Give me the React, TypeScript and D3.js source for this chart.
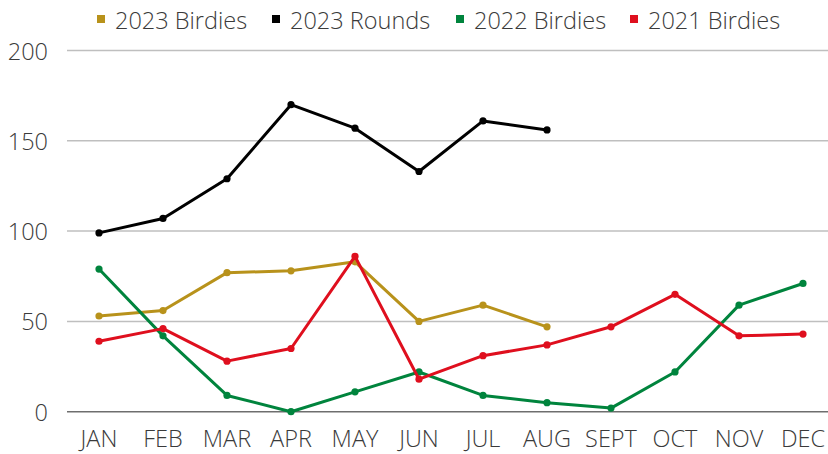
import React from "react";
import * as d3 from "d3";

const months = ["JAN", "FEB", "MAR", "APR", "MAY", "JUN", "JUL", "AUG", "SEPT", "OCT", "NOV", "DEC"];
const yTicks = [0, 50, 100, 150, 200];
const birdies2023 = [53, 56, 77, 78, 83, 50, 59, 47];
const rounds2023 = [99, 107, 129, 170, 157, 133, 161, 156];
const birdies2022 = [79, 42, 9, 0, 11, 22, 9, 5, 2, 22, 59, 71];
const birdies2021 = [39, 46, 28, 35, 86, 18, 31, 37, 47, 65, 42, 43];

const seriesNames = ["2023 Birdies", "2023 Rounds", "2022 Birdies", "2021 Birdies"];
const seriesColors = ["#B8921B", "#000000", "#00843D", "#DF0F1E"];
const seriesData = [birdies2023, rounds2023, birdies2022, birdies2021];

const W = 828;
const H = 454;
const FONT = "'Open Sans', sans-serif";
const FS = 23.5;

export default function App() {
  const x = d3.scalePoint<string>().domain(months).range([99, 803]);
  const y = d3.scaleLinear().domain([0, 200]).range([411.7, 50.5]);
  const line = d3
    .line<number>()
    .x((_, i) => x(months[i]) as number)
    .y((d) => y(d));
  const legendX = [97, 272, 456, 630];

  return (
    <>
      <style>{`body{margin:0}`}</style>
      <svg width={W} height={H} style={{ display: "block", background: "#fff" }}>
        {yTicks.map((t) => (
          <g key={t}>
            {t !== 0 && (
              <line x1={67} x2={828} y1={y(t)} y2={y(t)} stroke="#BFBFBF" strokeWidth={1.5} />
            )}
            <text
              x={48}
              y={y(t)}
              textAnchor="end"
              dominantBaseline="central"
              fontFamily={FONT}
              fontWeight={300}
              fontSize={FS}
              fill="#3A3A3A"
            >
              {t}
            </text>
          </g>
        ))}
        <line x1={67} x2={828} y1={y(0)} y2={y(0)} stroke="#6E6E6E" strokeWidth={1.5} />
        {months.map((m) => (
          <text
            key={m}
            x={x(m)}
            y={438}
            textAnchor="middle"
            dominantBaseline="central"
            fontFamily={FONT}
            fontWeight={300}
            fontSize={FS}
            fill="#3A3A3A"
          >
            {m}
          </text>
        ))}
        {seriesData.map((data, si) => (
          <g key={seriesNames[si]}>
            <path d={line(data) || ""} fill="none" stroke={seriesColors[si]} strokeWidth={3} strokeLinejoin="round" />
            {data.map((v, i) => (
              <circle key={i} cx={x(months[i])} cy={y(v)} r={3.6} fill={seriesColors[si]} />
            ))}
          </g>
        ))}
        {seriesNames.map((n, i) => (
          <g key={n}>
            <rect x={legendX[i]} y={15} width={8} height={8} fill={seriesColors[i]} />
            <text
              x={legendX[i] + 18}
              y={19.5}
              dominantBaseline="central"
              fontFamily={FONT}
              fontWeight={300}
              fontSize={FS}
              fill="#3A3A3A"
            >
              {n}
            </text>
          </g>
        ))}
      </svg>
    </>
  );
}
